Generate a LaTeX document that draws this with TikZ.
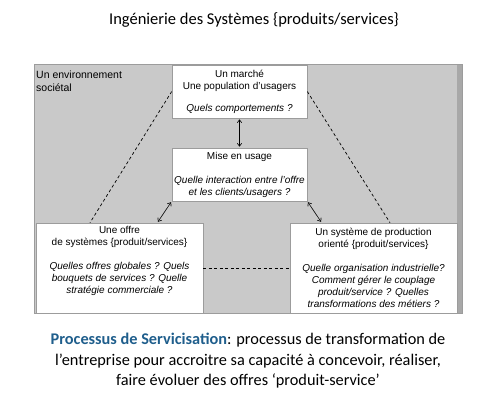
\documentclass[tikz,border=0pt]{standalone}
\usepackage{fontspec}
\setmainfont{Carlito}
\newfontfamily\boxfont{Liberation Sans}
\usetikzlibrary{arrows.meta,positioning,calc}
\definecolor{servblue}{HTML}{1F5E8C}
\definecolor{panelgray}{HTML}{C9C9C9}
\definecolor{edgegray}{HTML}{9C9C9C}
\definecolor{stripegray}{HTML}{A8A8A8}

\begin{document}
\begin{tikzpicture}[x=1pt,y=-1pt,>={Straight Barb[length=3pt,width=4.5pt]},
  box/.style={draw=edgegray,fill=white,line width=0.6pt,align=center,inner sep=2pt,
    font=\boxfont\fontsize{10}{12}\selectfont},
  link/.style={dashed,line width=0.7pt,dash pattern=on 3pt off 2.5pt},
  dual/.style={<->,line width=0.6pt,shorten <=1pt,shorten >=1pt}]
  \useasboundingbox (0,0) rectangle (500,404);
  % Title
  \node (title) at (254,20) {\fontsize{16.5}{20}\selectfont Ingénierie des Systèmes \{produits/services\}};
  % Environment panel
  \draw[fill=panelgray,draw=edgegray,line width=0.8pt] (34,64) rectangle (462,313);
  \fill[stripegray] (456.5,64.5) rectangle (461.5,312.5);
  \node[anchor=north west,align=left,inner sep=1pt,font=\boxfont\fontsize{10.5}{13}\selectfont]
    (env) at (35,70) {Un environnement\\sociétal};
  % Boxes
  \node[box,minimum width=135,minimum height=53] (market) at (239.5,91.5)
    {Un marché\\Une population d’usagers\\[10pt]\textit{Quels comportements ?}};
  \node[box,minimum width=135,minimum height=53] (usage) at (239.5,174.5)
    {Mise en usage\\[12pt]\textit{Quelle interaction entre l’offre}\\\textit{et les clients/usagers ?}};
  \node[box,minimum width=167,minimum height=90] (offer) at (119.5,268)
    {Une offre\\de systèmes \{produit/services\}\\[12pt]\textit{Quelles offres globales ? Quels}\\
     \textit{bouquets de services ? Quelle}\\\textit{stratégie commerciale ?}\\ \strut};
  \node[box,minimum width=167,minimum height=90] (prod) at (373.5,268)
    {Un système de production\\orienté \{produit/services\}\\[12pt]\textit{Quelle organisation industrielle?}\\
     \textit{Comment gérer le couplage}\\\textit{produit/service ? Quelles}\\\textit{transformations des métiers ?}};
  % Links
  \draw[link] (market.west) -- ([xshift=-29.5pt]offer.north);
  \draw[link] (market.east) -- ([xshift=16.5pt]prod.north);
  \draw[link] (offer.east) -- (prod.west);
  \draw[dual] (market.south) -- (usage.north);
  \draw[dual] (usage.south west) -- ([xshift=-46pt]offer.north east);
  \draw[dual] (usage.south east) -- ([xshift=32pt]prod.north west);
  % Caption
  \node[align=center,font=\fontsize{16.3}{20.5}\selectfont] (caption) at (248,361)
    {\textcolor{servblue}{\textbf{Processus de Servicisation}}: processus de transformation de\\
     l’entreprise pour accroitre sa capacité à concevoir, réaliser,\\
     faire évoluer des offres ‘produit-service’};
\end{tikzpicture}
\end{document}
